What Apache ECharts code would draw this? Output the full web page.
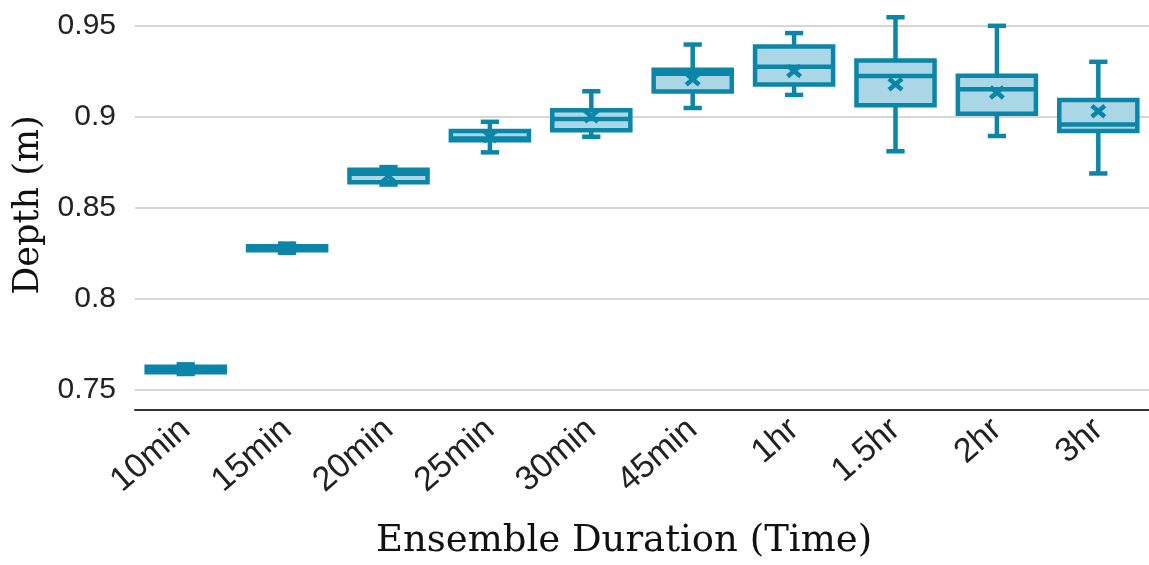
<!DOCTYPE html>
<html>
<head>
<meta charset="utf-8">
<script src="https://cdn.jsdelivr.net/npm/echarts@6/dist/echarts.min.js"></script>
<style>
  html, body { margin: 0; padding: 0; background: #fff; }
  #chart { width: 1149px; height: 565px; }
</style>
</head>
<body>
<div id="chart"></div>
<script>
  // ensemble durations
  var categories = ['10min', '15min', '20min', '25min', '30min', '45min', '1hr', '1.5hr', '2hr', '3hr'];
  // box statistics (m)
  var whiskerMin = [0.7585, 0.8252, 0.8627, 0.8804, 0.8890, 0.9048, 0.9120, 0.8810, 0.8894, 0.8688];
  var q1         = [0.7595, 0.8266, 0.8639, 0.8870, 0.8926, 0.9139, 0.9177, 0.9063, 0.9017, 0.8921];
  var median     = [0.7610, 0.8277, 0.8686, 0.8880, 0.8988, 0.9237, 0.9275, 0.9224, 0.9151, 0.8957];
  var q3         = [0.7625, 0.8288, 0.8708, 0.8922, 0.9035, 0.9259, 0.9386, 0.9309, 0.9226, 0.9092];
  var whiskerMax = [0.7638, 0.8302, 0.8723, 0.8972, 0.9140, 0.9397, 0.9460, 0.9547, 0.9500, 0.9302];
  var means      = [0.7612, 0.8277, 0.8672, 0.8892, 0.9003, 0.9206, 0.9251, 0.9179, 0.9133, 0.9030];

  var stroke = '#0b86a8';
  var fill = '#aad6e5';

  var boxData = categories.map(function (c, i) {
    return [i, whiskerMin[i], q1[i], median[i], q3[i], whiskerMax[i], means[i]];
  });

  function renderBox(params, api) {
    var i = api.value(0);
    var band = api.size([1, 0])[0];
    var boxW = band * 0.77;
    var capW = band * 0.18;
    var pt = function (k) { return api.coord([i, api.value(k)]); };
    var x = pt(1)[0];
    var yMin = pt(1)[1], yQ1 = pt(2)[1], yMed = pt(3)[1], yQ3 = pt(4)[1], yMax = pt(5)[1];
    var m = pt(6);
    var ls = { stroke: stroke, lineWidth: 4.5 };
    var line = function (x1, y1, x2, y2) {
      return { type: 'line', shape: { x1: x1, y1: y1, x2: x2, y2: y2 }, style: ls };
    };
    return {
      type: 'group',
      children: [
        line(x, yMin, x, yQ1),
        line(x, yQ3, x, yMax),
        line(x - capW / 2, yMin, x + capW / 2, yMin),
        line(x - capW / 2, yMax, x + capW / 2, yMax),
        {
          type: 'rect',
          shape: { x: x - boxW / 2, y: yQ3, width: boxW, height: yQ1 - yQ3 },
          style: { fill: fill, stroke: stroke, lineWidth: 4.5 }
        },
        line(x - boxW / 2, yMed, x + boxW / 2, yMed),
        line(m[0] - 6.5, m[1] - 5.5, m[0] + 6.5, m[1] + 5.5),
        line(m[0] - 6.5, m[1] + 5.5, m[0] + 6.5, m[1] - 5.5)
      ]
    };
  }

  var chart = echarts.init(document.getElementById('chart'));
  chart.setOption({
    animation: false,
    grid: { left: 135, right: 0, top: 0, bottom: 151 },
    xAxis: {
      type: 'category',
      data: categories,
      name: 'Ensemble Duration (Time)',
      nameLocation: 'middle',
      nameGap: 113,
      nameTextStyle: { fontFamily: 'DejaVu Serif', fontSize: 37, color: '#111', padding: [0, 36, 0, 0] },
      axisLine: { lineStyle: { color: '#333', width: 2 } },
      axisTick: { alignWithLabel: true, length: 10, lineStyle: { color: '#111', width: 3 } },
      axisLabel: { rotate: 41, interval: 0, margin: 15, fontFamily: 'Liberation Sans', fontSize: 34, color: '#222' },
      splitLine: { show: false }
    },
    yAxis: {
      type: 'value',
      min: 0.7387,
      max: 0.9642,
      minInterval: 0.05,
      maxInterval: 0.05,
      name: 'Depth (m)',
      nameLocation: 'middle',
      nameGap: 82,
      nameTextStyle: { fontFamily: 'DejaVu Serif', fontSize: 35, color: '#111' },
      axisLine: { show: false },
      axisTick: { show: false },
      axisLabel: { showMinLabel: false, showMaxLabel: false, margin: 19, fontFamily: 'Liberation Sans', fontSize: 30, color: '#222' },
      splitLine: { showMinLine: false, showMaxLine: false, lineStyle: { color: '#c8c8c8', width: 1.5 } }
    },
    series: [{
      type: 'custom',
      renderItem: renderBox,
      encode: { x: 0, y: [1, 5] },
      data: boxData
    }]
  });
</script>
</body>
</html>
